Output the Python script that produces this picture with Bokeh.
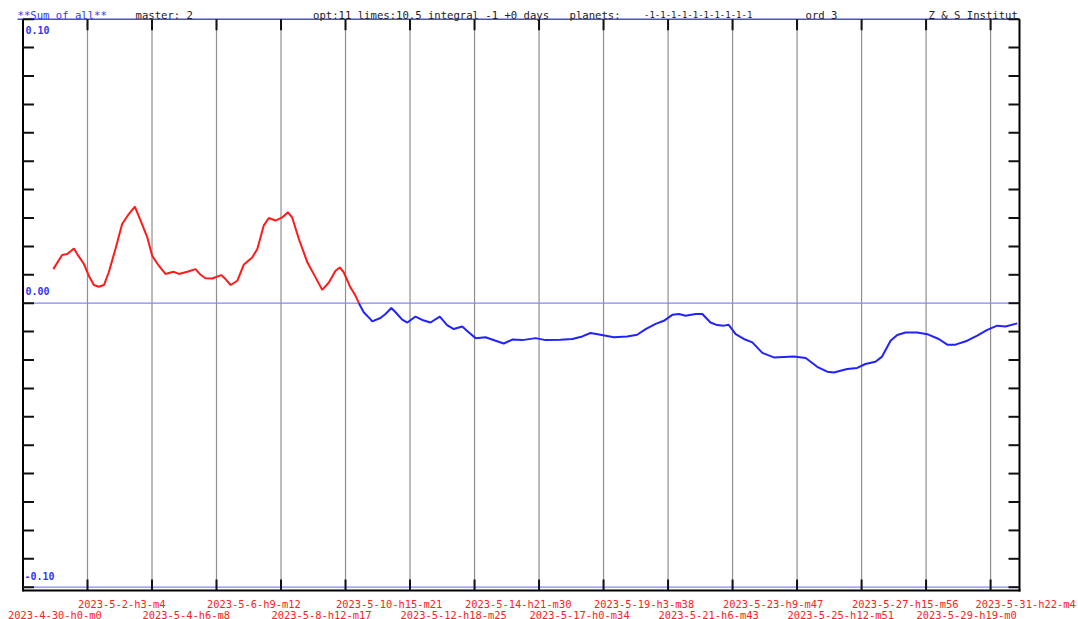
import datetime as dt
from bokeh.plotting import figure
from bokeh.models import Range1d
from bokeh.core.properties import value
from bokeh.embed import file_html
from bokeh.resources import INLINE

# ---------------- data ----------------
tick_labels = [
    "2023-4-30-h0-m0", "2023-5-2-h3-m4", "2023-5-4-h6-m8", "2023-5-6-h9-m12",
    "2023-5-8-h12-m17", "2023-5-10-h15-m21", "2023-5-12-h18-m25", "2023-5-14-h21-m30",
    "2023-5-17-h0-m34", "2023-5-19-h3-m38", "2023-5-21-h6-m43", "2023-5-23-h9-m47",
    "2023-5-25-h12-m51", "2023-5-27-h15-m56", "2023-5-29-h19-m0", "2023-5-31-h22-m4",
]

# positive part of the curve (red), in days since 2023-4-30 0:00
red_days = [1.00, 1.29, 1.46, 1.68, 1.79, 2.01, 2.17, 2.34, 2.50, 2.67, 2.83, 3.05, 3.27,
            3.49, 3.69, 3.88, 4.10, 4.26, 4.48, 4.70, 4.96, 5.14, 5.42, 5.69, 5.86, 6.02,
            6.24, 6.54, 6.68, 6.85, 7.07, 7.28, 7.56, 7.73, 7.94, 8.11, 8.33, 8.55, 8.74,
            8.88, 9.10, 9.38, 9.65, 9.87, 10.09, 10.31, 10.45, 10.58, 10.80, 10.97, 11.08]
red_vals = [0.0120, 0.0170, 0.0173, 0.0193, 0.0173, 0.0138, 0.0097, 0.0064, 0.0058, 0.0064,
            0.0109, 0.0191, 0.0279, 0.0314, 0.0340, 0.0291, 0.0232, 0.0167, 0.0132, 0.0103,
            0.0111, 0.0103, 0.0111, 0.0120, 0.0100, 0.0088, 0.0087, 0.0099, 0.0085, 0.0064,
            0.0079, 0.0135, 0.0161, 0.0191, 0.0273, 0.0300, 0.0291, 0.0302, 0.0320, 0.0302,
            0.0226, 0.0144, 0.0091, 0.0047, 0.0073, 0.0114, 0.0126, 0.0109, 0.0056, 0.0026,
            0.0000]

# negative part of the curve (blue)
blue_days = [11.08, 11.24, 11.46, 11.52, 11.79, 11.96, 12.15, 12.29, 12.51, 12.68, 12.95,
             13.17, 13.44, 13.75, 13.99, 14.21, 14.49, 14.71, 14.93, 15.26, 15.59, 15.86,
             16.14, 16.47, 16.91, 17.24, 17.73, 18.12, 18.45, 18.72, 19.05, 19.49, 19.93,
             20.26, 20.54, 20.87, 21.14, 21.42, 21.64, 21.86, 22.19, 22.41, 22.68, 22.90,
             23.12, 23.28, 23.51, 23.78, 24.06, 24.39, 24.77, 25.43, 25.82, 26.20, 26.53,
             26.75, 27.19, 27.52, 27.79, 28.12, 28.34, 28.62, 28.84, 29.11, 29.50, 29.83,
             30.21, 30.49, 30.76, 31.15, 31.48, 31.81, 32.14, 32.41, 32.80]
blue_vals = [0.0000, -0.0032, -0.0056, -0.0064, -0.0052, -0.0038, -0.0017, -0.0032, -0.0058,
             -0.0068, -0.0047, -0.0059, -0.0068, -0.0047, -0.0077, -0.0091, -0.0082, -0.0103,
             -0.0123, -0.0120, -0.0132, -0.0142, -0.0128, -0.0130, -0.0123, -0.0130, -0.0129,
             -0.0126, -0.0117, -0.0105, -0.0111, -0.0120, -0.0117, -0.0111, -0.0091, -0.0073,
             -0.0062, -0.0041, -0.0038, -0.0044, -0.0038, -0.0038, -0.0068, -0.0077, -0.0079,
             -0.0076, -0.0109, -0.0126, -0.0138, -0.0175, -0.0191, -0.0188, -0.0193, -0.0224,
             -0.0241, -0.0244, -0.0232, -0.0228, -0.0214, -0.0206, -0.0188, -0.0132, -0.0112,
             -0.0103, -0.0103, -0.0109, -0.0126, -0.0146, -0.0146, -0.0132, -0.0114, -0.0094,
             -0.0079, -0.0082, -0.0071]

y_ticks = [-0.10, -0.09, -0.08, -0.07, -0.06, -0.05, -0.04, -0.03, -0.02, -0.01, 0.0,
           0.01, 0.02, 0.03, 0.04, 0.05, 0.06, 0.07, 0.08, 0.09, 0.10]
y_label_vals = [0.10, 0.00, -0.10]
y_label_texts = ["0.10", "0.00", "-0.10"]

header_texts = ["**Sum of all**", "master: 2", "opt:11 limes:10.5 integral -1 +0 days",
                "planets:", "-1-1-1-1-1-1-1-1-1-1", "ord 3", "Z & S Institut"]


def parse(s):
    parts = s.split("-")
    return dt.datetime(int(parts[0]), int(parts[1]), int(parts[2]),
                       int(parts[3][1:]), int(parts[4][1:]))


t0 = parse(tick_labels[0])
tick_days = [(parse(s) - t0).total_seconds() / 86400.0 for s in tick_labels]

# ---------------- layout (pixels of the canvas) ----------------
W, H = 1078, 619
X0_PX = 22.5                      # day 0 (left axis)
PX_PER_DAY = 64.5 / tick_days[1]  # one tick interval is 64.5 px
ZERO_PY = 302.7                   # value 0 (from top)
PX_PER_UNIT = 2840.0              # 0.01 -> 28.4 px
RIGHT_PX = 1019.0
BOTTOM_PY = 590.0


def X(px):
    return (px - X0_PX) / PX_PER_DAY


def Y(py):
    return (ZERO_PY - py) / PX_PER_UNIT


def PX(day):
    return X0_PX + day * PX_PER_DAY


def PY(v):
    return ZERO_PY - v * PX_PER_UNIT


MONO = "DejaVu Sans Mono"

p = figure(width=W, height=H, output_backend="svg", toolbar_location=None,
           x_range=Range1d(X(0), X(W)), y_range=Range1d(Y(H), Y(0)),
           x_axis_location=None, y_axis_location=None, min_border=0)
p.outline_line_color = None
p.grid.visible = False
p.background_fill_color = "white"
p.border_fill_color = "white"

top_py = PY(0.10)
right_day = X(RIGHT_PX)
bottom_v = Y(BOTTOM_PY)

# vertical grid lines at the date ticks
gx = tick_days[1:]
p.segment(x0=gx, y0=[0.10] * len(gx), x1=gx, y1=[bottom_v] * len(gx),
          line_color="#8f8f8f", line_width=1.2)

# horizontal reference lines
p.segment(x0=[X(17)], y0=[0.10], x1=[right_day], y1=[0.10], line_color="#4d4dd6", line_width=1.5)
p.segment(x0=[0, 0], y0=[0.0, -0.10], x1=[right_day, right_day], y1=[0.0, -0.10],
          line_color="#8585ff", line_width=1.2)

# frame (left, right, bottom)
p.segment(x0=[0, right_day, 0], y0=[Y(top_py), Y(top_py), bottom_v],
          x1=[0, right_day, X(RIGHT_PX + 1)], y1=[Y(BOTTOM_PY + 1), Y(BOTTOM_PY + 1), bottom_v],
          line_color="black", line_width=2)

# ticks on top and bottom at grid lines
p.segment(x0=gx, y0=[Y(top_py)] * len(gx), x1=gx, y1=[Y(top_py + 11)] * len(gx),
          line_color="#111111", line_width=2)
p.segment(x0=gx, y0=[bottom_v] * len(gx), x1=gx, y1=[Y(BOTTOM_PY - 11)] * len(gx),
          line_color="#111111", line_width=2)

# ticks on left and right
p.segment(x0=[0] * len(y_ticks), y0=y_ticks, x1=[X(X0_PX + 11)] * len(y_ticks), y1=y_ticks,
          line_color="#111111", line_width=2)
p.segment(x0=[X(RIGHT_PX - 11)] * len(y_ticks), y0=y_ticks, x1=[right_day] * len(y_ticks),
          y1=y_ticks, line_color="#111111", line_width=2)

# the curve
p.line(red_days, red_vals, line_color="#ff1a1a", line_width=2)
p.line(blue_days, blue_vals, line_color="#2222ff", line_width=2)

# y value labels inside the frame
ylab_base = [PY(v) + d for v, d in zip(y_label_vals, [10.5, -12.0, -11.0])]
p.text(x=[X(25), X(25), X(24)], y=[Y(b) for b in ylab_base], text=y_label_texts,
       text_font=value(MONO), text_font_size=value("10px"), text_font_style="bold",
       text_color="#3535ff", text_baseline="alphabetic", text_align="left")

# header line
header_px = [17, 135, 312.6, 569, 643.5, 805, 928]
header_colors = ["#3535ff", "#222222", "#222222", "#222222", "#222222", "#222222", "#222222"]
header_sizes = ["10.6px", "10.6px", "10.6px", "10.6px", "9px", "10.6px", "10.6px"]
for t, xp, c, fs in zip(header_texts, header_px, header_colors, header_sizes):
    p.text(x=[X(xp)], y=[Y(14.0)], text=[t], text_font=value(MONO), text_font_size=value(fs),
           text_color=c, text_baseline="alphabetic", text_align="left")

# bottom date labels, staggered on two rows
n_lab = len(tick_days)
lab_shift = [15 if i == 0 else (15 if i == n_lab - 1 else 9.5) for i in range(n_lab)]
lab_x = [X(PX(d) - s) for d, s in zip(tick_days, lab_shift)]
lab_y = [Y(603.5) if i % 2 == 1 else Y(614.0) for i in range(n_lab)]
p.text(x=lab_x, y=lab_y, text=tick_labels, text_font=value(MONO),
       text_font_size=value("10.4px"), text_color="#ff2020",
       text_baseline="alphabetic", text_align="left")

open("out.html", "w").write(file_html(p, INLINE))
